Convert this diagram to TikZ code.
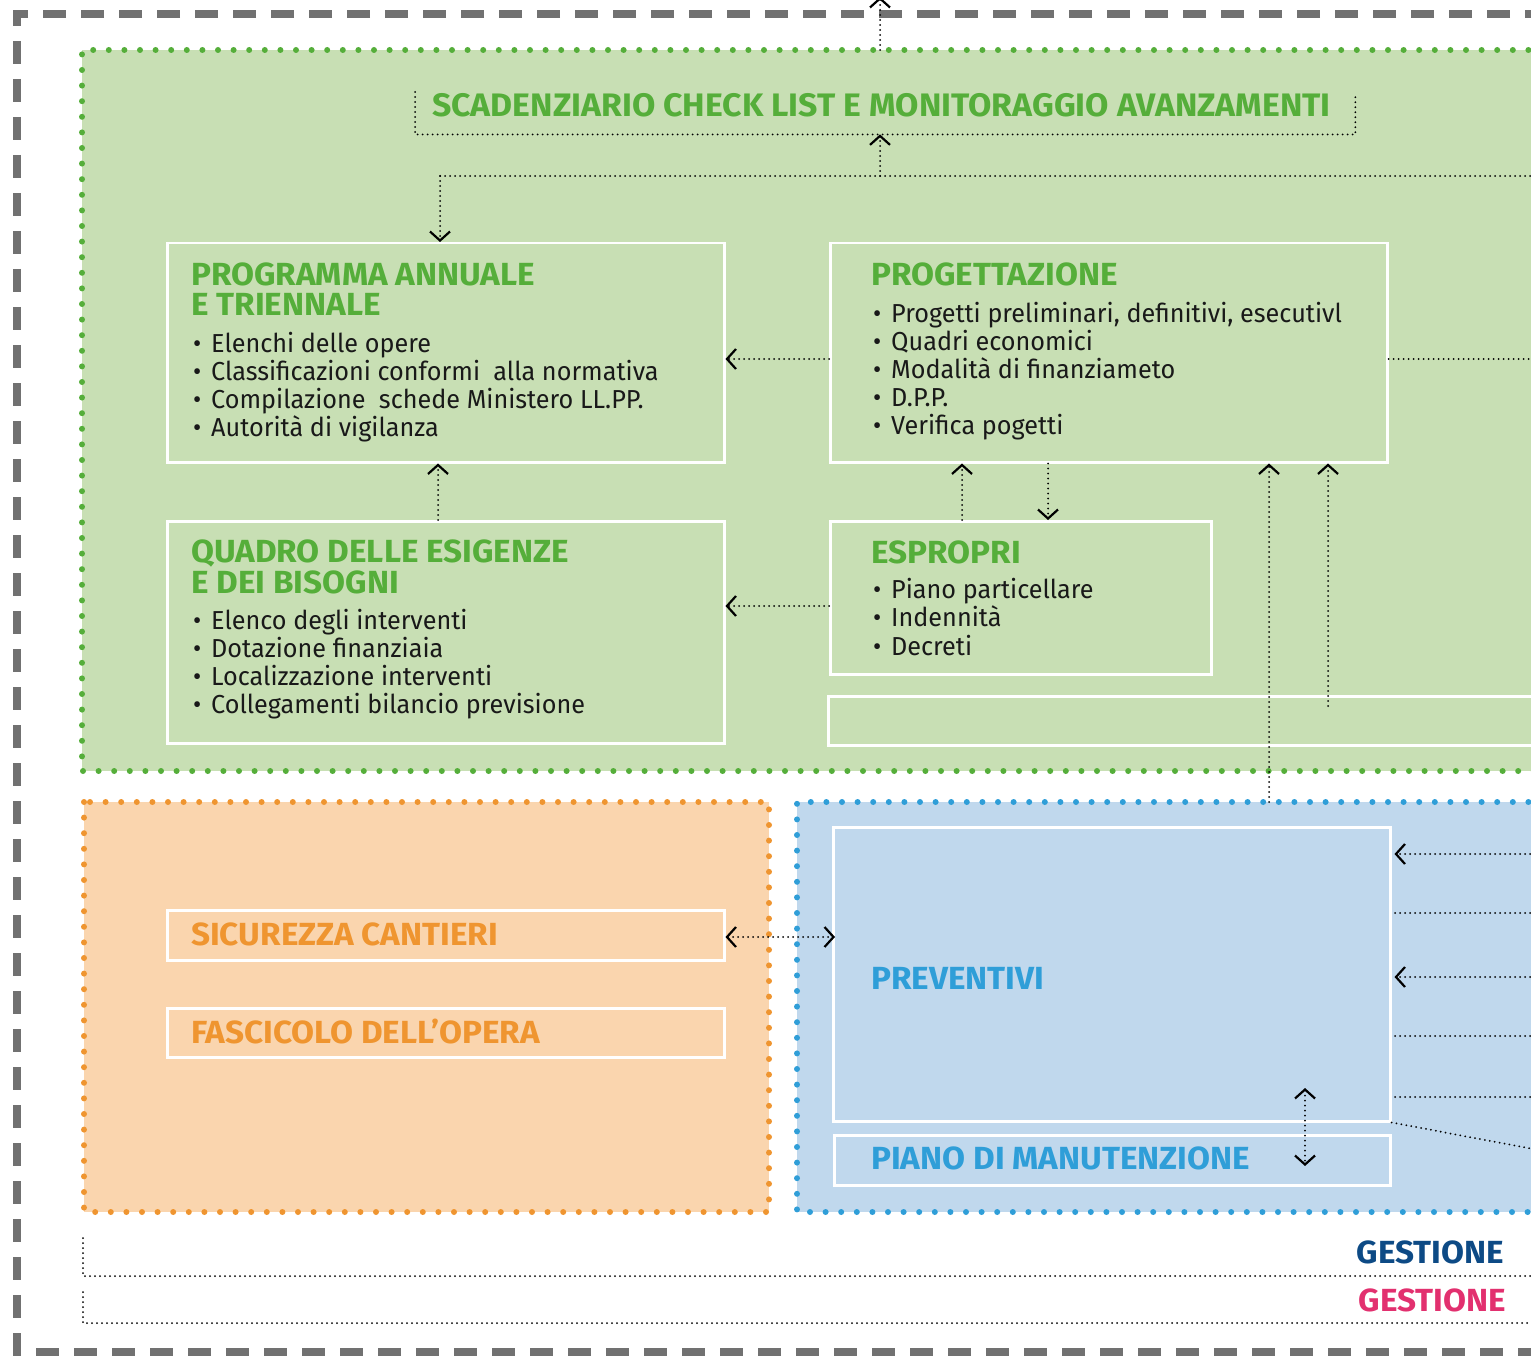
\documentclass[tikz,border=0pt]{standalone}
\usepackage{fontspec}
\setmainfont{Fira Sans}
\newfontfamily\bodyf{Fira Sans}[FakeStretch=0.97]
\newfontfamily\ttlf{Fira Sans}[FakeStretch=1.04]
\usetikzlibrary{arrows.meta}
\definecolor{grn}{HTML}{55AE3A}
\definecolor{grnfill}{HTML}{C8DFB4}
\definecolor{org}{HTML}{EF9530}
\definecolor{orgfill}{HTML}{FAD5AE}
\definecolor{blu}{HTML}{2F9ED8}
\definecolor{blufill}{HTML}{C0D8ED}
\definecolor{navy}{HTML}{0D4A85}
\definecolor{pinkc}{HTML}{E2306F}
\definecolor{dgray}{HTML}{717171}
\begin{document}
\begin{tikzpicture}[x=1pt,y=-1pt,
  outerdash/.style={draw=dgray,line width=8pt,dash pattern=on 23pt off 15pt},
  regiondots/.style={line width=6pt,line cap=round,dash pattern=on 0pt off 15.6pt},
  wbox/.style={draw=white,line width=2.5pt,anchor=north west,inner sep=0pt},
  blk/.style={draw=black,line width=2pt,line cap=round,dash pattern=on 0pt off 5pt},
  tip/.style={-{Straight Barb[length=9pt,width=20pt,line width=2.2pt]}},
  dtip/.style={{Straight Barb[length=9pt,width=20pt,line width=2.2pt]}-{Straight Barb[length=9pt,width=20pt,line width=2.2pt]}},
  body/.style={font=\bodyf\fontsize{26}{28}\selectfont,anchor=base west,inner sep=0pt,text=black!90},
  ttl/.style={font=\ttlf\bfseries\fontsize{32}{32}\selectfont,anchor=base west,inner sep=0pt},
]
\useasboundingbox (0,0) rectangle (1531,1356);
\clip (0,0) rectangle (1531,1356);

% outer dashed frame
\draw[outerdash] (1700,14) -- (17,14) -- (17,1352) -- (1700,1352);

% regions
\fill[grnfill] (82,50) rectangle (1700,771);
\draw[regiondots,draw=grn] (1700,50) -- (82,50) -- (82,771) -- (1700,771);
\fill[orgfill] (84,802) rectangle (769,1212);
\draw[regiondots,draw=org] (84,802) rectangle (769,1212);
\fill[blufill] (797,802) rectangle (1700,1212);
\draw[regiondots,draw=blu] (1700,802) -- (797,802) -- (797,1212) -- (1700,1212);

% boxes
\node[wbox,minimum width=557pt,minimum height=219pt] (prog) at (166,242) {};
\node[wbox,minimum width=557pt,minimum height=219pt] (progett) at (829,242) {};
\node[wbox,minimum width=557pt,minimum height=222pt] (quadro) at (166,520) {};
\node[wbox,minimum width=381pt,minimum height=153pt] (espr) at (829,520) {};
\node[wbox,minimum width=900pt,minimum height=49pt] (empty) at (827,695) {};
\node[wbox,minimum width=557pt,minimum height=50pt] (sic) at (166,909) {};
\node[wbox,minimum width=557pt,minimum height=49pt] (fasc) at (166,1007) {};
\node[wbox,minimum width=557pt,minimum height=294pt] (prev) at (832,826) {};
\node[wbox,minimum width=556pt,minimum height=50pt] (piano) at (833,1134) {};

% scadenziario bracket
\node[anchor=north west,inner sep=0pt,minimum width=940pt,minimum height=42pt] (scad) at (415,92) {};
\draw[blk] (scad.north west) -- (scad.south west) -- (scad.south east) -- ([yshift=-4pt]scad.north east);
\node[ttl,text=grn,font=\ttlf\bfseries\fontsize{32.5}{33}\selectfont] (scadt) at (432,117) {SCADENZIARIO CHECK LIST E MONITORAGGIO AVANZAMENTI};

% texts: programma
\node[ttl,text=grn] (t1a) at (191,286) {PROGRAMMA ANNUALE};
\node[ttl,text=grn] (t1b) at (191,316) {E TRIENNALE};
\foreach \t [count=\i] in {Elenchi delle opere,Classificazioni conformi \ alla normativa,Compilazione \ schede Ministero LL.PP.,Autorità di vigilanza}
  \node[body] (b1\i) at (193,{352+28.3*(\i-1)}) {\makebox[18pt][l]{•}\t};

% progettazione
\node[ttl,text=grn] (t2) at (871,286) {PROGETTAZIONE};
\foreach \t [count=\i] in {{Progetti preliminari, definitivi, esecutivl},Quadri economici,Modalità di finanziameto,D.P.P.,Verifica pogetti}
  \node[body] (b2\i) at (873,{322+28.2*(\i-1)}) {\makebox[18pt][l]{•}\t};

% quadro
\node[ttl,text=grn] (t3a) at (191,562) {QUADRO DELLE ESIGENZE};
\node[ttl,text=grn] (t3b) at (191,593) {E DEI BISOGNI};
\foreach \t [count=\i] in {Elenco degli interventi,Dotazione finanziaia,Localizzazione interventi,Collegamenti bilancio previsione}
  \node[body] (b3\i) at (193,{629+28.3*(\i-1)}) {\makebox[18pt][l]{•}\t};

% espropri
\node[ttl,text=grn] (t4) at (871,563) {ESPROPRI};
\foreach \t [count=\i] in {Piano particellare,Indennità,Decreti}
  \node[body] (b4\i) at (873,{598+28.5*(\i-1)}) {\makebox[18pt][l]{•}\t};

% orange / blue titles
\node[ttl,text=org] (t5) at (191,945) {SICUREZZA CANTIERI};
\node[ttl,text=org] (t6) at (191,1043) {FASCICOLO DELL’OPERA};
\node[ttl,text=blu] (t7) at (871,989) {PREVENTIVI};
\node[ttl,text=blu] (t8) at (871,1169) {PIANO DI MANUTENZIONE};

% gestione
\node[ttl,text=navy,anchor=base east] (g1) at (1504,1263) {GESTIONE};
\node[ttl,text=pinkc,anchor=base east] (g2) at (1506,1311) {GESTIONE};

% coordinates
\coordinate (topout) at (880,-3);
\coordinate (gtop) at (880,50);
\coordinate (hl) at (440,176);
\coordinate (hm) at (880,176);
\coordinate (hr) at (1700,176);
\coordinate (bluetop) at (1269,802);
\coordinate (emptyin) at (1328,706);
\coordinate (r1) at (1700,359);
\coordinate (p1) at (1700,854);
\coordinate (p2) at (1700,913);
\coordinate (p3) at (1700,977);
\coordinate (p4) at (1700,1036);
\coordinate (p5) at (1700,1097);
\coordinate (p6) at (1700,1180);

% connectors
\draw[blk,tip] (gtop) -- (topout);
\draw[blk] (hl) -- (hr);
\draw[blk,tip] (hm) -- (scad.south -| hm);
\draw[blk,tip] (hl) -- (prog.north -| hl);
\draw[blk,tip] (progett.west |- 0,359) -- (prog.east |- 0,359);
\draw[blk,tip] (espr.west |- 0,606) -- (quadro.east |- 0,606);
\draw[blk,tip] (quadro.north -| 438,0) -- (prog.south -| 438,0);
\draw[blk,tip] (espr.north -| 962,0) -- (progett.south -| 962,0);
\draw[blk,tip] (progett.south -| 1048,0) -- (espr.north -| 1048,0);
\draw[blk,tip] (bluetop) -- (progett.south -| bluetop);
\draw[blk,tip] (emptyin) -- (progett.south -| emptyin);
\draw[blk] (progett.east |- r1) -- (r1);
\draw[blk,dtip] (sic.east |- 0,937) -- ([xshift=3pt]prev.west |- 0,937);
\draw[blk,tip] (p1) -- ([xshift=3pt]prev.east |- p1);
\draw[blk] (p2) -- ([xshift=3pt]prev.east |- p2);
\draw[blk,tip] (p3) -- ([xshift=3pt]prev.east |- p3);
\draw[blk] (p4) -- (prev.east |- p4);
\draw[blk] (p5) -- (prev.east |- p5);
\draw[blk] (prev.south east) -- (p6);
\draw[blk,dtip] (1305,1088) -- (1305,1166);

% bottom brackets
\coordinate (ga) at (83,1238);
\coordinate (gb) at (83,1276);
\coordinate (gc) at (1700,1276);
\coordinate (gd) at (83,1292);
\coordinate (ge) at (83,1323);
\coordinate (gf) at (1700,1323);
\draw[blk] (ga) -- (gb) -- (gc);
\draw[blk] (gd) -- (ge) -- (gf);
\end{tikzpicture}
\end{document}
